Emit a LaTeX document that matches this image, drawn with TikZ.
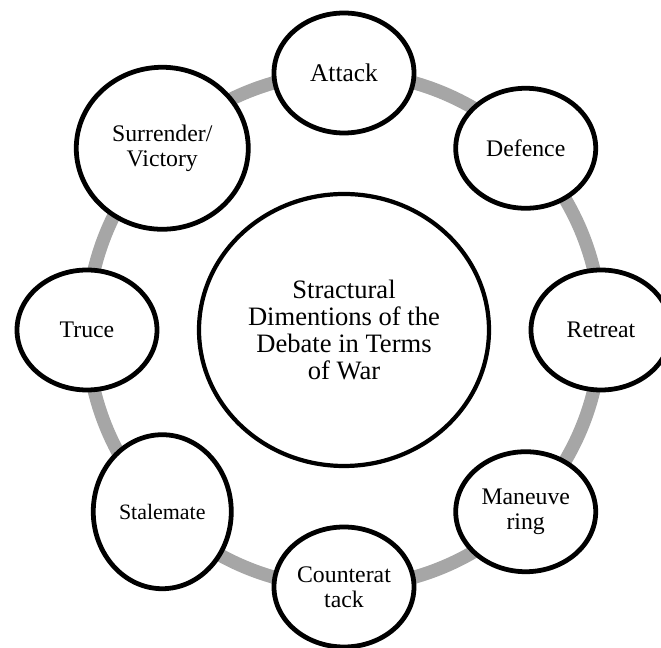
\documentclass[tikz,border=0pt]{standalone}
\usepackage{fontspec}
\setmainfont{Liberation Serif}
\usetikzlibrary{shapes.geometric,backgrounds}
\definecolor{ringgray}{RGB}{166,166,166}
\begin{document}
\begin{tikzpicture}
\tikzset{
    p1/.style={%
        draw=black, line width=3.4pt,
        ellipse, fill=white,
        inner sep=0pt, align=center,
        minimum width=3.5cm,
        minimum height=3.0cm,
        font=\fontsize{16.9}{17.8}\selectfont
        },
    hub/.style={%
        draw=black, line width=3pt,
        ellipse, fill=white,
        inner sep=0pt, align=center,
        minimum width=7.25cm,
        minimum height=6.8cm,
        font=\fontsize{18.9}{19.3}\selectfont
        },
    ring/.style={%
        draw=ringgray, line width=9.5pt
        },
}
\useasboundingbox (-8.6,-7.95) rectangle (7.925,8.25);
%%%CENTRE
\node[hub] (c0) at (0,0) {Stractural\\Dimentions of the\\Debate in Terms\\of War};
%%%STAGES
\node[p1, font=\fontsize{18.1}{19}\selectfont] (c1) at (90:6.425) {Attack};
\node[p1] (c2) at (45:6.425) {Defence};
\node[p1] (c3) at (0:6.425) {Retreat};
\node[p1] (c4) at (-45:6.425) {Maneuve\\ring};
\node[p1] (c5) at (-90:6.425) {Counterat\\tack};
\node[p1, minimum width=3.45cm, minimum height=3.85cm,
      font=\fontsize{15.6}{17}\selectfont] (c6) at (-135:6.425) {Stalemate};
\node[p1] (c7) at (180:6.425) {Truce};
\node[p1, minimum width=4.3cm, minimum height=4.05cm] (c8) at (135:6.425) {Surrender/\\Victory};
%%%RING
\begin{scope}[on background layer]
\foreach \a/\b in {c1/c2,c2/c3,c3/c4,c4/c5,c5/c6,c6/c7,c7/c8,c8/c1}
    \draw[ring] (\a.center) to[bend left=22.5, looseness=0.885] (\b.center);
\end{scope}
\end{tikzpicture}
\end{document}
